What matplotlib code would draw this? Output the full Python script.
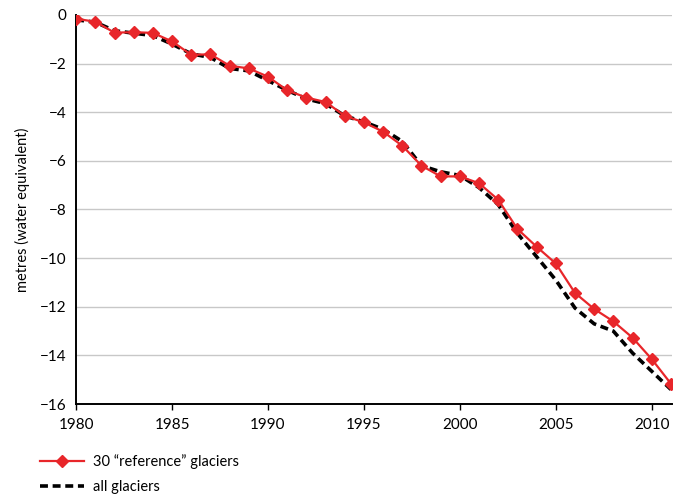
import matplotlib.pyplot as plt

# Datos
anios = list(range(1980, 2012))
referencia = [-0.16, -0.28, -0.73, -0.71, -0.74, -1.09, -1.64, -1.62, -2.09, -2.2,
              -2.54, -3.1, -3.4, -3.58, -4.15, -4.42, -4.8, -5.38, -6.2, -6.64,
              -6.64, -6.92, -7.6, -8.8, -9.53, -10.22, -11.43, -12.09, -12.6, -13.27,
              -14.15, -15.16]
todos = [-0.2, -0.3, -0.65, -0.75, -0.85, -1.2, -1.6, -1.75, -2.2, -2.3,
         -2.7, -3.1, -3.45, -3.65, -4.15, -4.4, -4.7, -5.2, -6.2, -6.45,
         -6.6, -7.1, -7.8, -8.98, -9.94, -10.9, -12.05, -12.7, -13.0, -13.9,
         -14.65, -15.4]
yticks = list(range(0, -17, -2))
xticks = list(range(1980, 2011, 5))

plt.rcParams['font.family'] = ['Lato', 'DejaVu Sans']

fig = plt.figure(figsize=(6.8, 4.97), dpi=100)
ax = fig.add_axes([0.112, 0.187, 0.876, 0.783])

l1, = ax.plot(anios, referencia, color='#e8262a', lw=1.6, marker='D', markersize=6,
              label='30 \u201creference\u201d glaciers', zorder=3)
l2, = ax.plot(anios, todos, color='black', lw=2.6, ls=(0, (2.2, 1.3)),
              label='all glaciers', zorder=2)

ax.set_xlim(1980, 2011.05)
ax.set_ylim(-16, 0)
ax.set_yticks(yticks)
ax.set_xticks(xticks)
ax.grid(axis='y', color='#c8c8c8', lw=1)
ax.set_axisbelow(True)
for s in ['top', 'right']:
    ax.spines[s].set_visible(False)
ax.spines['left'].set_linewidth(1.4)
ax.spines['bottom'].set_linewidth(1.4)
ax.tick_params(axis='y', length=0, labelsize=11, pad=7)
ax.tick_params(axis='x', direction='out', length=4, width=1, labelsize=11, pad=6)
ax.set_ylabel('metres (water equivalent)', fontsize=10.5, labelpad=7)

# Leyenda debajo del grafico
fig.legend(handles=[l1, l2], loc='lower left', bbox_to_anchor=(0.04, -0.02),
           frameon=False, fontsize=10.5, handlelength=3.0, labelspacing=0.75,
           handletextpad=0.6)

fig.savefig('out.png', dpi=100)
